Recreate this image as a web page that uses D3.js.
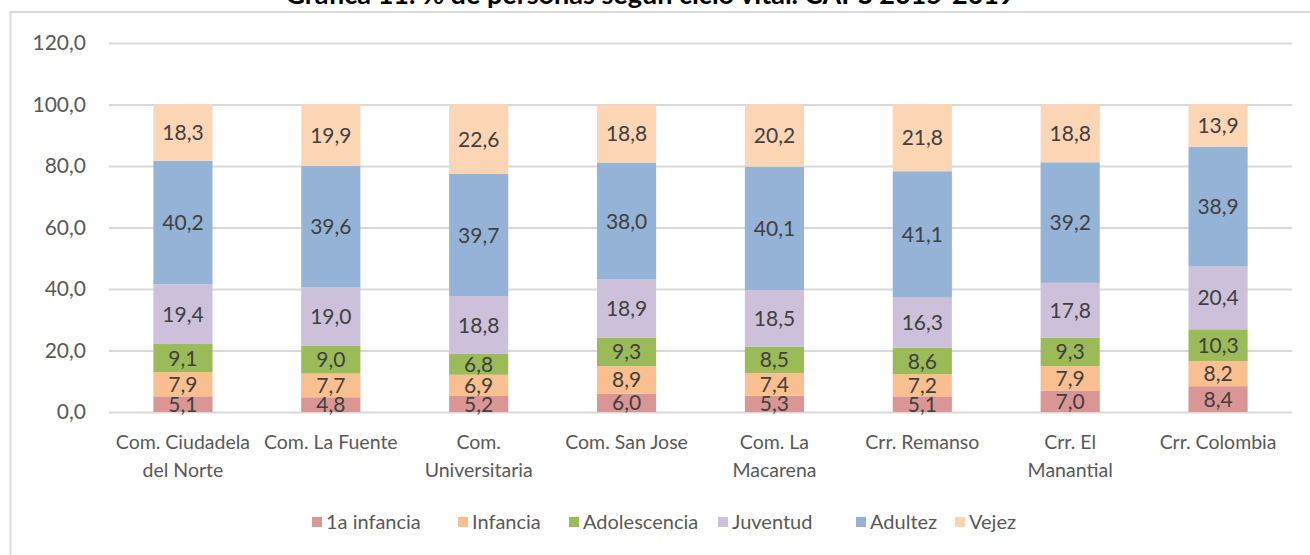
<!DOCTYPE html>
<html>
<head>
<meta charset="utf-8">
<script src="https://cdn.jsdelivr.net/npm/d3@7"></script>
<style>
  body { margin: 0; background: #fff; }
  svg { display: block; font-family: Lato, "Open Sans", sans-serif; }
</style>
</head>
<body>
<svg id="chart" width="1310" height="555"></svg>
<script>
// data
var title = "Gráfica 11. % de personas según ciclo vital. CAPS 2015-2019";
var categories = ["Com. Ciudadela del Norte", "Com. La Fuente", "Com. Universitaria", "Com. San Jose",
                  "Com. La Macarena", "Crr. Remanso", "Crr. El Manantial", "Crr. Colombia"];
// how each category label is broken into lines
var categoryLines = [["Com. Ciudadela", "del Norte"], ["Com. La Fuente"], ["Com.", "Universitaria"], ["Com. San Jose"],
                     ["Com. La", "Macarena"], ["Crr. Remanso"], ["Crr. El", "Manantial"], ["Crr. Colombia"]];
var seriesNames = ["1a infancia", "Infancia", "Adolescencia", "Juventud", "Adultez", "Vejez"];
var primeraInfancia = [5.1, 4.8, 5.2, 6.0, 5.3, 5.1, 7.0, 8.4];
var infancia        = [7.9, 7.7, 6.9, 8.9, 7.4, 7.2, 7.9, 8.2];
var adolescencia    = [9.1, 9.0, 6.8, 9.3, 8.5, 8.6, 9.3, 10.3];
var juventud        = [19.4, 19.0, 18.8, 18.9, 18.5, 16.3, 17.8, 20.4];
var adultez         = [40.2, 39.6, 39.7, 38.0, 40.1, 41.1, 39.2, 38.9];
var vejez           = [18.3, 19.9, 22.6, 18.8, 20.2, 21.8, 18.8, 13.9];
var yTicks = [0, 20, 40, 60, 80, 100, 120];

var colors = ["#DA9694", "#FABF8F", "#9BBB59", "#CCC0DA", "#95B3D7", "#FCD5B4"];
var seriesValues = [primeraInfancia, infancia, adolescencia, juventud, adultez, vejez];

var svg = d3.select('#chart');
var comma = function(v) { return d3.format('.1f')(v).replace('.', ','); };

// chart frame (only top and left edges fall inside the picture)
svg.append('rect')
  .attr('x', 10.5).attr('y', 12)
  .attr('width', 1320).attr('height', 600)
  .attr('fill', 'none')
  .attr('stroke', '#D9D9D9')
  .attr('stroke-width', 2);

// title sits mostly above the top edge, as in the source
svg.append('text')
  .attr('x', 650).attr('y', 4)
  .attr('text-anchor', 'middle')
  .attr('font-weight', 'bold')
  .attr('font-size', 27)
  .attr('fill', '#000')
  .text(title);

var x = d3.scaleBand().domain(categories).range([109, 1292]).padding(0),
    y = d3.scaleLinear().domain([0, 120]).range([412, 43]);

var barW = x.bandwidth() * 0.4;

// gridlines + y labels
var yAxis = svg.append('g')
  .attr('transform', 'translate(109,0)')
  .call(d3.axisLeft(y).tickValues(yTicks).tickFormat(comma).tickSize(-(1292 - 109)).tickPadding(23));
yAxis.select('.domain').remove();
yAxis.selectAll('line').attr('stroke', '#D9D9D9').attr('stroke-width', 2);
yAxis.selectAll('text').attr('fill', '#595959').attr('font-size', 21).attr('font-family', 'Lato');

// stack the series
var rows = categories.map(function(c, i) {
  var r = { cat: c };
  seriesNames.forEach(function(s, j) { r[s] = seriesValues[j][i]; });
  return r;
});
var stacked = d3.stack().keys(seriesNames)(rows);

var layers = svg.append('g').selectAll('g')
  .data(stacked)
  .join('g')
  .attr('fill', function(d, i) { return colors[i]; });

layers.selectAll('rect')
  .data(function(d) { return d; })
  .join('rect')
  .attr('x', function(d) { return x(d.data.cat) + (x.bandwidth() - barW) / 2; })
  .attr('width', barW)
  .attr('y', function(d) { return y(d[1]); })
  .attr('height', function(d) { return y(d[0]) - y(d[1]); });

// value labels in the middle of each piece
var labels = svg.append('g').selectAll('g')
  .data(stacked)
  .join('g');

labels.selectAll('text')
  .data(function(d) { return d.map(function(p) { return { p: p, key: d.key }; }); })
  .join('text')
  .attr('x', function(d) { return x(d.p.data.cat) + x.bandwidth() / 2; })
  .attr('y', function(d) { return y((d.p[0] + d.p[1]) / 2); })
  .attr('dy', '0.36em')
  .attr('text-anchor', 'middle')
  .attr('font-size', 21)
  .attr('fill', '#404040')
  .text(function(d) { return comma(d.p.data[d.key]); });

// category labels
var cats = svg.append('g').selectAll('text')
  .data(categories)
  .join('text')
  .attr('x', function(d) { return x(d) + x.bandwidth() / 2; })
  .attr('y', 449)
  .attr('text-anchor', 'middle')
  .attr('font-size', 19.5)
  .attr('fill', '#595959');

cats.selectAll('tspan')
  .data(function(d, i) { return categoryLines[i]; })
  .join('tspan')
  .attr('x', function() { return d3.select(this.parentNode).attr('x'); })
  .attr('dy', function(d, i) { return i === 0 ? 0 : 28; })
  .text(function(d) { return d; });

// legend
var legendX = [312, 458, 569, 718, 856, 955];
var legend = svg.append('g').selectAll('g')
  .data(seriesNames)
  .join('g')
  .attr('transform', function(d, i) { return 'translate(' + legendX[i] + ',522)'; });

legend.append('rect')
  .attr('x', 0).attr('y', -5)
  .attr('width', 10).attr('height', 10)
  .attr('fill', function(d, i) { return colors[i]; });

legend.append('text')
  .attr('x', 14)
  .attr('dy', '0.36em')
  .attr('font-size', 20)
  .attr('fill', '#595959')
  .text(function(d) { return d; });
</script>
</body>
</html>
